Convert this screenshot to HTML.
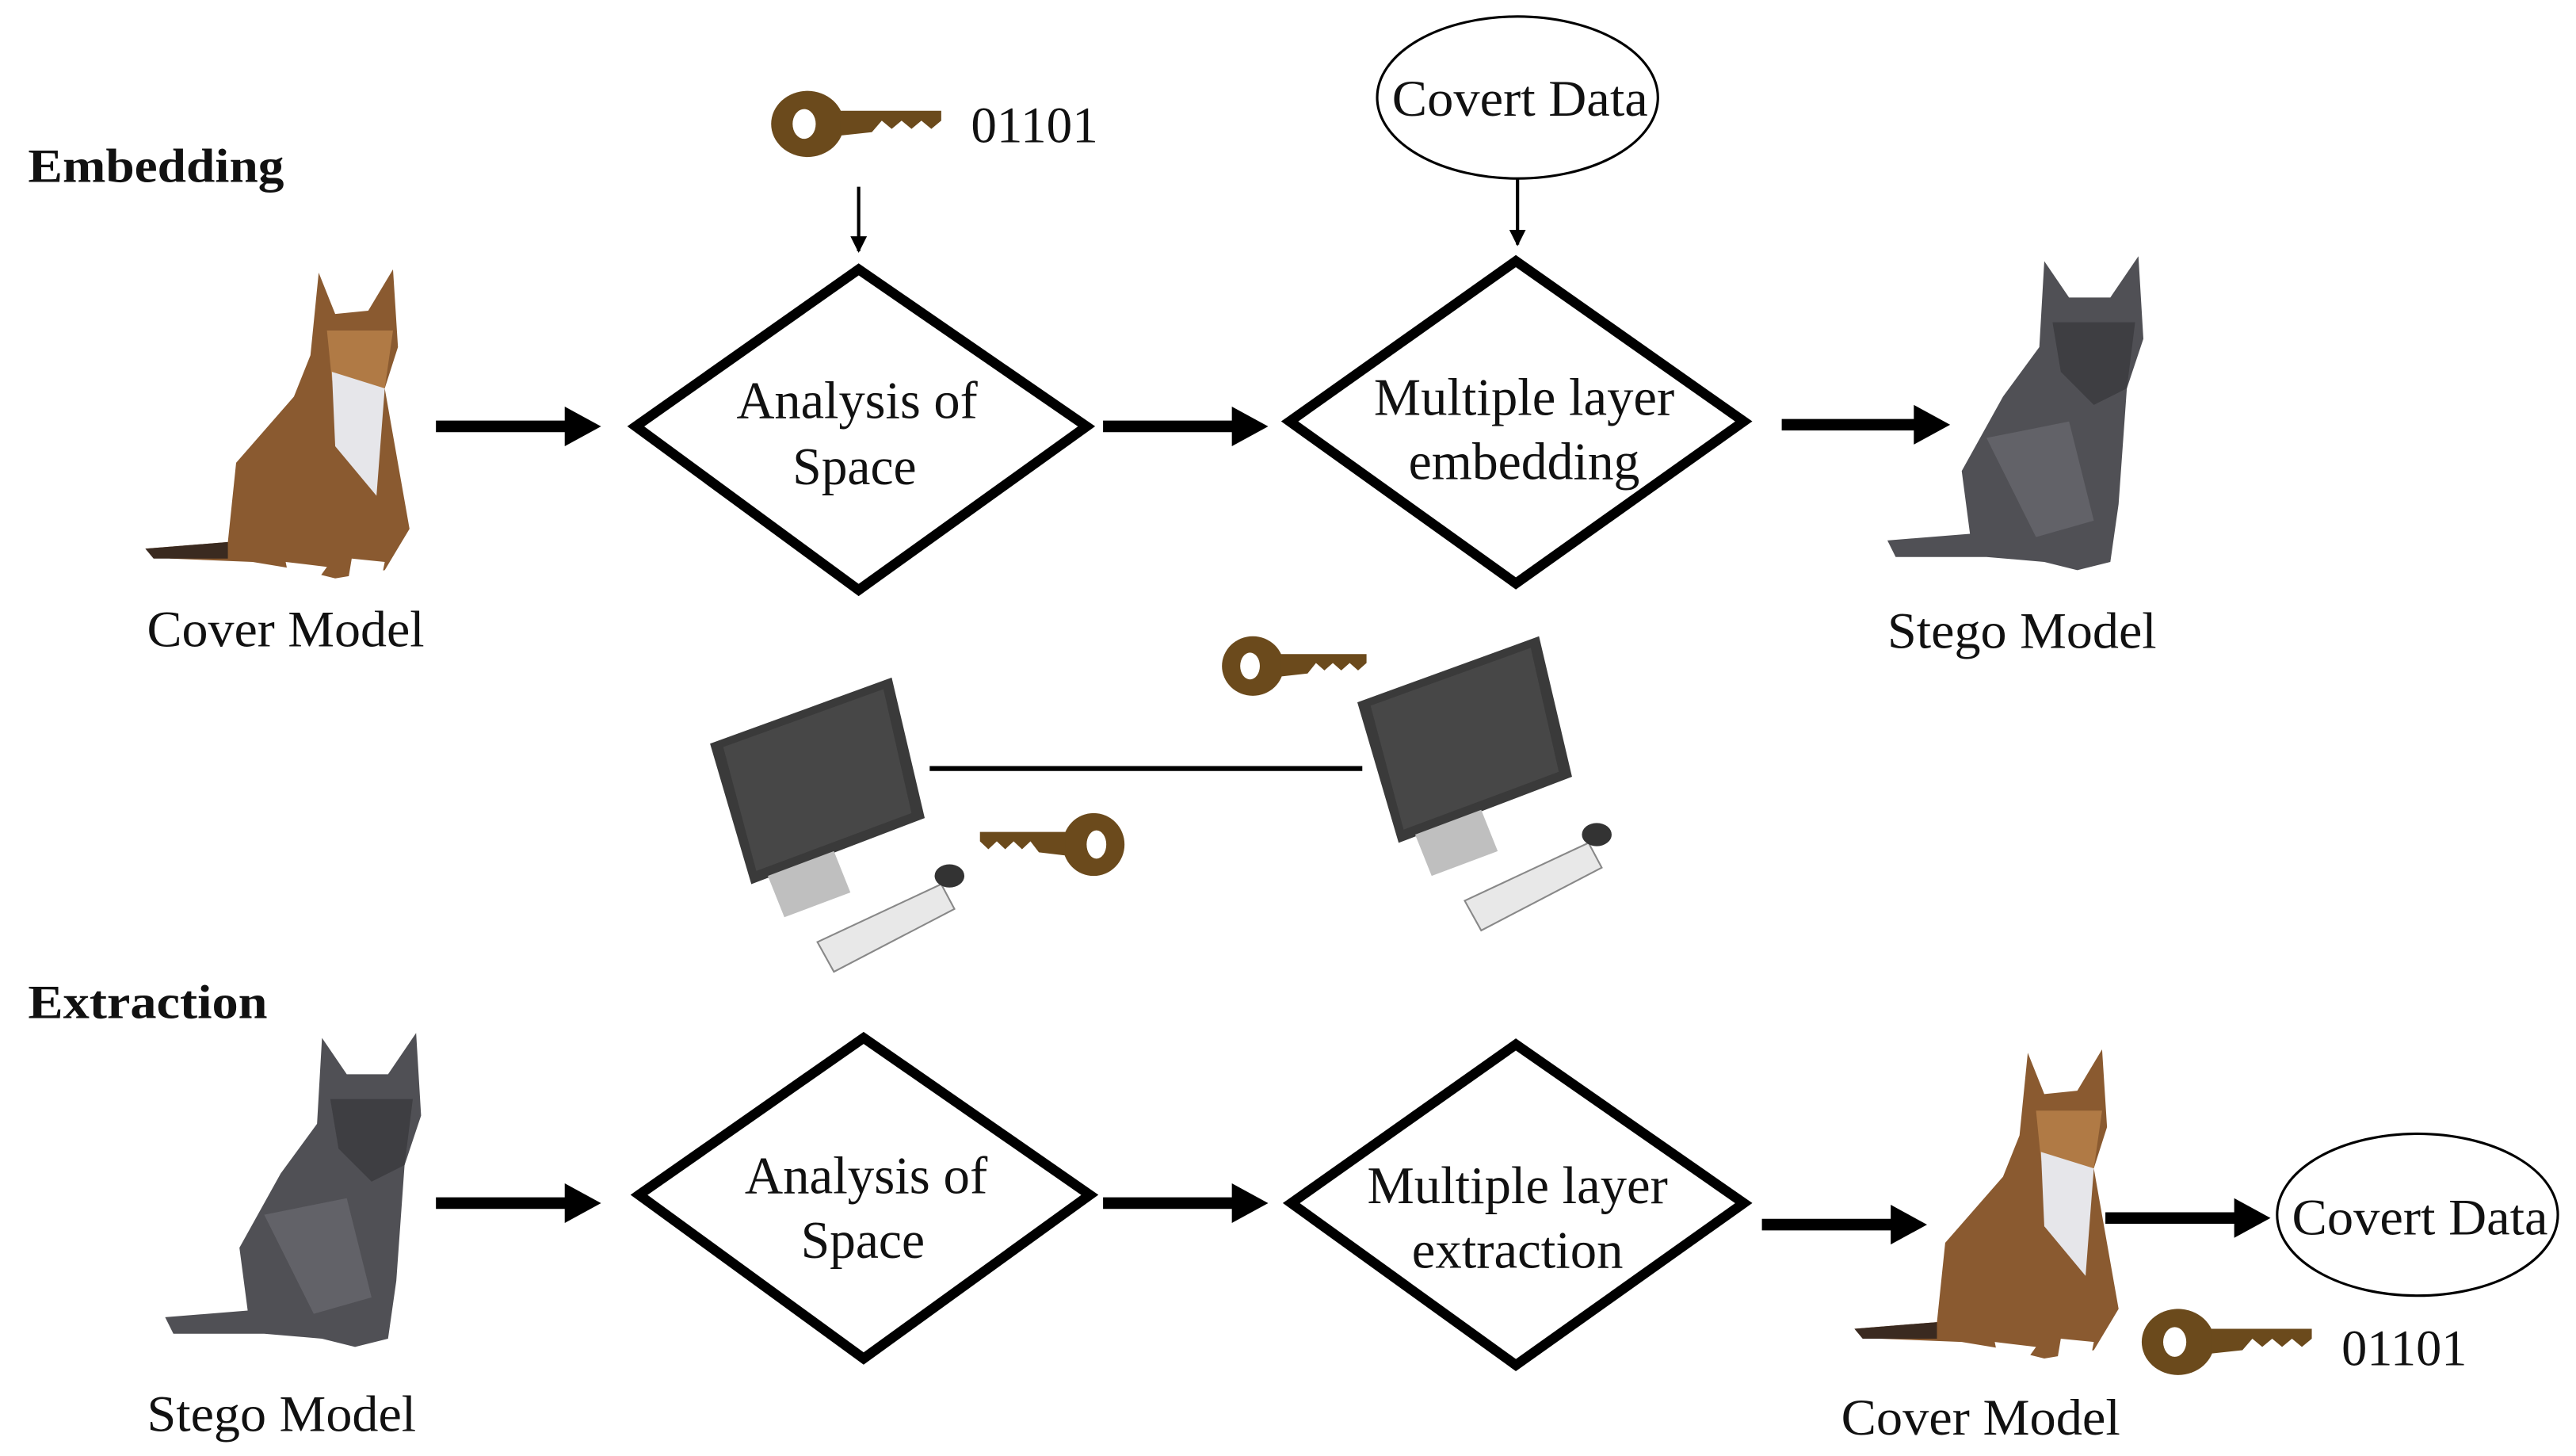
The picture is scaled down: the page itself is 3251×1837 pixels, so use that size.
<!DOCTYPE html>
<html><head><meta charset="utf-8"><style>
html,body{margin:0;padding:0;background:#fff;}
svg{display:block}
text{font-family:"Liberation Serif",serif;fill:#111}
</style></head><body>
<svg width="3251" height="1837" viewBox="0 0 1560 881" preserveAspectRatio="none" xmlns="http://www.w3.org/2000/svg">
<defs>
<marker id="ah" markerWidth="10" markerHeight="10" refX="9" refY="5" orient="auto" markerUnits="userSpaceOnUse"><path d="M0,0 L10,5 L0,10 z" fill="#000"/></marker>
<g id="key">
<ellipse cx="22" cy="20" rx="22" ry="20" fill="#6b4a1c"/>
<ellipse cx="20" cy="20" rx="7" ry="9" fill="#fff"/>
<path d="M42,12 L103,12 L103,18 L97,23 L91,18 L85,23 L79,18 L73,23 L67,18 L61,25 L42,27 z" fill="#6b4a1c"/>
</g>
<g id="catB">
<path d="M110,5 L120,30 L140,28 L155,3 L158,50 L150,75 L165,160 L150,185 L120,190 L100,185 L70,180 L20,178 L5,172 L55,168 L60,120 L95,80 L105,55 z" fill="#8a5a30"/>
<path d="M115,40 L155,40 L150,75 L130,85 L118,70 z" fill="#b07a45"/>
<path d="M118,65 L150,75 L145,140 L120,110 z" fill="#e6e6ea"/>
<path d="M90,180 L115,183 L110,190 L92,190 z M130,178 L150,180 L148,190 L128,190 z" fill="#fff"/>
<path d="M5,172 L55,168 L55,178 L10,178 z" fill="#3a2a20"/>
</g>
<g id="catG">
<path d="M95,3 L110,25 L135,25 L152,0 L155,50 L145,80 L140,150 L135,185 L115,190 L95,185 L60,182 L5,182 L0,172 L50,168 L45,130 L70,85 L92,55 z" fill="#505055"/>
<path d="M100,40 L150,40 L145,80 L125,90 L105,70 z" fill="#3e3e42"/>
<path d="M60,110 L110,100 L125,160 L90,170 z" fill="#626268"/>
</g>
<g id="pc">
<path d="M0,40 L110,0 L130,85 L25,125 z" fill="#3a3a3a"/>
<path d="M8,42 L105,7 L122,82 L28,117 z" fill="#474747"/>
<path d="M35,120 L75,105 L85,130 L45,145 z" fill="#bfbfbf"/>
<path d="M65,160 L140,125 L148,140 L75,178 z" fill="#e8e8e8" stroke="#888" stroke-width="1"/>
<ellipse cx="145" cy="120" rx="9" ry="7" fill="#333"/>
</g>
</defs>

<g lengthAdjust="spacingAndGlyphs">
<text x="17" y="110" font-size="29" font-weight="bold" textLength="155" lengthAdjust="spacingAndGlyphs">Embedding</text>
<text x="17" y="616" font-size="29" font-weight="bold" textLength="145" lengthAdjust="spacingAndGlyphs">Extraction</text>
</g>

<use href="#key" x="467" y="55"/>
<text x="588" y="86" font-size="31" textLength="77" lengthAdjust="spacingAndGlyphs">01101</text>
<line x1="520" y1="113" x2="520" y2="152" stroke="#000" stroke-width="2" marker-end="url(#ah)"/>

<ellipse cx="919" cy="59" rx="85" ry="49" fill="#fff" stroke="#000" stroke-width="1.5"/>
<text x="843" y="70" font-size="31" textLength="155" lengthAdjust="spacingAndGlyphs">Covert Data</text>
<line x1="919" y1="108" x2="919" y2="148" stroke="#000" stroke-width="2" marker-end="url(#ah)"/>

<g fill="#fff" stroke="#000" stroke-width="6">
<polygon points="385,258 520,163 658,258 520,357"/>
<polygon points="781,255 918,158 1056,255 918,353"/>
<polygon points="387,723 523,628 660,723 523,822"/>
<polygon points="782,728 918,632 1056,728 918,826"/>
</g>
<g font-size="32">
<text x="446" y="253" textLength="146" lengthAdjust="spacingAndGlyphs">Analysis of</text>
<text x="480" y="293" textLength="75" lengthAdjust="spacingAndGlyphs">Space</text>
<text x="832" y="251" textLength="182" lengthAdjust="spacingAndGlyphs">Multiple layer</text>
<text x="853" y="290" textLength="140" lengthAdjust="spacingAndGlyphs">embedding</text>
<text x="451" y="722" textLength="147" lengthAdjust="spacingAndGlyphs">Analysis of</text>
<text x="485" y="761" textLength="75" lengthAdjust="spacingAndGlyphs">Space</text>
<text x="828" y="728" textLength="182" lengthAdjust="spacingAndGlyphs">Multiple layer</text>
<text x="855" y="767" textLength="128" lengthAdjust="spacingAndGlyphs">extraction</text>
</g>

<g stroke="#000" stroke-width="7">
<line x1="264" y1="258" x2="345" y2="258"/><line x1="668" y1="258" x2="749" y2="258"/><line x1="1079" y1="257" x2="1162" y2="257"/>
<line x1="264" y1="728" x2="345" y2="728"/><line x1="668" y1="728" x2="749" y2="728"/><line x1="1067" y1="741" x2="1148" y2="741"/><line x1="1275" y1="737" x2="1356" y2="737"/>
</g>
<g fill="#000">
<polygon points="342,246 364,258 342,270"/><polygon points="746,246 768,258 746,270"/><polygon points="1159,245 1181,257 1159,269"/>
<polygon points="342,716 364,728 342,740"/><polygon points="746,716 768,728 746,740"/><polygon points="1145,729 1167,741 1145,753"/><polygon points="1353,725 1375,737 1353,749"/>
</g>

<use href="#catB" x="83" y="160"/>
<text x="89" y="391" font-size="31" textLength="168" lengthAdjust="spacingAndGlyphs">Cover Model</text>
<use href="#catG" x="1143" y="155"/>
<text x="1143" y="392" font-size="31" textLength="163" lengthAdjust="spacingAndGlyphs">Stego Model</text>

<use href="#pc" x="430" y="410"/>
<use href="#pc" x="822" y="385"/>
<line x1="563" y1="465" x2="825" y2="465" stroke="#000" stroke-width="3"/>
<use href="#key" x="0" y="0" transform="translate(740,385) scale(0.85,0.9)"/>
<use href="#key" x="0" y="0" transform="translate(681,492) scale(-0.85,0.95)"/>

<use href="#catG" x="100" y="625"/>
<text x="89" y="866" font-size="31" textLength="163" lengthAdjust="spacingAndGlyphs">Stego Model</text>
<use href="#catB" x="1118" y="632"/>
<text x="1115" y="868" font-size="31" textLength="169" lengthAdjust="spacingAndGlyphs">Cover Model</text>

<ellipse cx="1464" cy="735" rx="85" ry="49" fill="#fff" stroke="#000" stroke-width="1.5"/>
<text x="1388" y="747" font-size="31" textLength="155" lengthAdjust="spacingAndGlyphs">Covert Data</text>
<use href="#key" x="1297" y="792"/>
<text x="1418" y="826" font-size="31" textLength="76" lengthAdjust="spacingAndGlyphs">01101</text>
</svg>
</body></html>
